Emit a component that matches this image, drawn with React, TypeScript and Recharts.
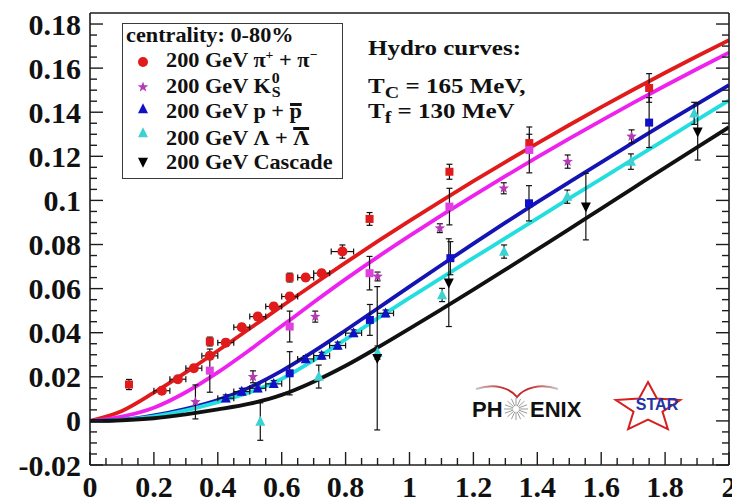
import React from 'react';
import { ComposedChart, Line, Scatter, XAxis, YAxis, ErrorBar, Legend } from 'recharts';

const SERIF = '"Liberation Serif", Tinos, "Times New Roman", Times, "DejaVu Serif", serif';
const SANS = '"Liberation Sans", Arimo, Arial, Helvetica, sans-serif';
const INK = '#1c1c1c';

// ---------- axis ticks ----------
const xMajorTicks = [0, 0.2, 0.4, 0.6, 0.8, 1, 1.2, 1.4, 1.6, 1.8, 2];
const xMajorLabels = ['0', '0.2', '0.4', '0.6', '0.8', '1', '1.2', '1.4', '1.6', '1.8', '2'];
const yMajorTicks = [-0.02, 0, 0.02, 0.04, 0.06, 0.08, 0.1, 0.12, 0.14, 0.16, 0.18];
const yMajorLabels = ['-0.02', '0', '0.02', '0.04', '0.06', '0.08', '0.1', '0.12', '0.14', '0.16', '0.18'];
const X_DOMAIN: [number, number] = [0, 2];
const Y_DOMAIN: [number, number] = [-0.02, 0.185];

// ---------- hydro curves ----------
const curveX = [0, 0.1, 0.2, 0.3, 0.4, 0.5, 0.6, 0.7, 0.8, 0.9, 1.0, 1.1, 1.2, 1.3, 1.4, 1.5, 1.6, 1.7, 1.8, 1.9, 2.0];
const pionCurveY = [0, 0.0045, 0.0128, 0.022, 0.0318, 0.0419, 0.052, 0.062, 0.0718, 0.0814, 0.0907, 0.0998, 0.1087, 0.1174, 0.1259, 0.1342, 0.1423, 0.1502, 0.1579, 0.1654, 0.1727];
const kaonCurveY = [0, 0.002, 0.006, 0.013, 0.022, 0.0322, 0.043, 0.0538, 0.0643, 0.0743, 0.0839, 0.0932, 0.1022, 0.111, 0.1196, 0.128, 0.1362, 0.1442, 0.152, 0.1596, 0.167];
const protonCurveY = [0, 0.0005, 0.0025, 0.0055, 0.0095, 0.0152, 0.0227, 0.0315, 0.0411, 0.051, 0.0609, 0.0707, 0.0804, 0.0899, 0.0992, 0.1083, 0.1173, 0.1262, 0.135, 0.1437, 0.1523];
const lambdaCurveY = [0, 0.0005, 0.0021, 0.0048, 0.0085, 0.013, 0.019, 0.0275, 0.037, 0.0465, 0.0558, 0.0649, 0.0739, 0.0829, 0.0919, 0.1009, 0.1098, 0.1187, 0.1276, 0.1365, 0.1454];
const cascadeCurveY = [0, 0.0003, 0.0012, 0.003, 0.0052, 0.0078, 0.0118, 0.0178, 0.025, 0.0332, 0.0418, 0.0506, 0.0595, 0.0686, 0.0778, 0.087, 0.0963, 0.1056, 0.1149, 0.1241, 0.1332];

// ---------- data points ----------
const piCircleX = [0.225, 0.275, 0.325, 0.375, 0.425, 0.475, 0.525, 0.575, 0.625, 0.675, 0.725, 0.79];
const piCircleY = [0.0137, 0.0189, 0.0239, 0.0295, 0.0355, 0.0425, 0.0473, 0.0519, 0.0564, 0.065, 0.067, 0.0768];
const piCircleEy = [0.0015, 0.0015, 0.0015, 0.0015, 0.0015, 0.0015, 0.0015, 0.0015, 0.0015, 0.0015, 0.0015, 0.003];
const piCircleEx = [0.025, 0.025, 0.025, 0.025, 0.025, 0.025, 0.025, 0.025, 0.025, 0.025, 0.025, 0.035];

const piSquareX = [0.122, 0.375, 0.625, 0.875, 1.125, 1.375, 1.75];
const piSquareY = [0.0165, 0.036, 0.065, 0.0916, 0.113, 0.126, 0.151];
const piSquareEy = [0.0023, 0.002, 0.002, 0.0029, 0.0034, 0.004, 0.0065];

const k0StarX = [0.33, 0.51, 0.705, 0.9, 1.095, 1.295, 1.495, 1.695];
const k0StarY = [0.0086, 0.02, 0.0473, 0.0655, 0.0874, 0.1055, 0.1176, 0.129];
const k0StarEy = [0.0077, 0.0027, 0.0025, 0.002, 0.002, 0.0025, 0.003, 0.003];

const kSquareX = [0.375, 0.625, 0.875, 1.125, 1.375];
const kSquareY = [0.0228, 0.0428, 0.067, 0.0972, 0.1229];
const kSquareEy = [0.0098, 0.007, 0.0076, 0.0083, 0.0104];

const pTriX = [0.425, 0.475, 0.525, 0.575, 0.675, 0.725, 0.775, 0.825, 0.925];
const pTriY = [0.0103, 0.0133, 0.0148, 0.0168, 0.0281, 0.0296, 0.0342, 0.0398, 0.0488];
const pTriEy = [0.0015, 0.0015, 0.0015, 0.0015, 0.0015, 0.0015, 0.0015, 0.0015, 0.0015];
const pTriEx = [0.025, 0.025, 0.025, 0.025, 0.025, 0.025, 0.025, 0.025, 0.025];

const pSquareX = [0.625, 0.876, 1.128, 1.374, 1.75];
const pSquareY = [0.0216, 0.0458, 0.0738, 0.0987, 0.1353];
const pSquareEy = [0.0098, 0.007, 0.0075, 0.008, 0.0113];

const lambdaX = [0.533, 0.716, 0.9, 1.102, 1.296, 1.494, 1.693, 1.891];
const lambdaY = [-0.0003, 0.0201, 0.031, 0.0571, 0.0768, 0.1017, 0.1176, 0.1395];
const lambdaEy = [0.0085, 0.0052, 0.003, 0.003, 0.003, 0.003, 0.0035, 0.005];

const cascadeX = [0.899, 1.123, 1.552, 1.902];
const cascadeY = [0.0284, 0.0627, 0.0972, 0.1312];
const cascadeEy = [0.0325, 0.0199, 0.0151, 0.0129];

// ---------- build tables ----------
const curve = (ys: number[]) => curveX.map((x, i) => ({ x, y: ys[i] }));
const pts = (xs: number[], ys: number[], ey?: number[], ex?: number[]) =>
  xs.map((x, i) => ({ x, y: ys[i], ey: ey ? ey[i] : 0, ex: ex ? ex[i] : 0 }));

const subdivide = (majors: number[], n: number) => {
  const out: number[] = [];
  for (let i = 0; i < majors.length; i++) {
    out.push(majors[i]);
    if (i < majors.length - 1) {
      const step = (majors[i + 1] - majors[i]) / n;
      for (let k = 1; k < n; k++) out.push(+(majors[i] + k * step).toFixed(5));
    }
  }
  return out;
};
const xAllTicks = subdivide(xMajorTicks, 4);
const yAllTicks = subdivide(yMajorTicks, 4);
const majorIndex = (v: number, majors: number[]) => majors.findIndex((m) => Math.abs(m - v) < 1e-6);

const MAJOR = 13;
const MINOR = 7;
const TICK_FONT = 30;

const BottomTick = (p: any) => {
  const i = majorIndex(p.payload.value, xMajorTicks);
  return (
    <g>
      <line x1={p.x} x2={p.x} y1={p.y} y2={p.y - (i >= 0 ? MAJOR : MINOR)} stroke={INK} strokeWidth={1.4} />
      {i >= 0 && (
        <text x={p.x} y={p.y + 31.5} textAnchor="middle" fontFamily={SERIF} fontWeight="bold" fontSize={TICK_FONT} fill="#111">
          {xMajorLabels[i]}
        </text>
      )}
    </g>
  );
};
const TopTick = (p: any) => {
  const i = majorIndex(p.payload.value, xMajorTicks);
  return <line x1={p.x} x2={p.x} y1={p.y} y2={p.y + (i >= 0 ? MAJOR : MINOR)} stroke={INK} strokeWidth={1.4} />;
};
const LeftTick = (p: any) => {
  const i = majorIndex(p.payload.value, yMajorTicks);
  return (
    <g>
      <line x1={p.x} x2={p.x + (i >= 0 ? MAJOR : MINOR)} y1={p.y} y2={p.y} stroke={INK} strokeWidth={1.4} />
      {i >= 0 && (
        <text x={p.x - 9} y={p.y + 10.5} textAnchor="end" fontFamily={SERIF} fontWeight="bold" fontSize={TICK_FONT} fill="#111">
          {yMajorLabels[i]}
        </text>
      )}
    </g>
  );
};
const RightTick = (p: any) => {
  const i = majorIndex(p.payload.value, yMajorTicks);
  return <line x1={p.x} x2={p.x - (i >= 0 ? MAJOR : MINOR)} y1={p.y} y2={p.y} stroke={INK} strokeWidth={1.4} />;
};

// ---------- marker shapes ----------
const circleShape = (fill: string, r: number) => (p: any) => <circle cx={p.cx} cy={p.cy} r={r} fill={fill} />;
const squareShape = (fill: string, s: number) => (p: any) => (
  <rect x={p.cx - s / 2} y={p.cy - s / 2} width={s} height={s} fill={fill} />
);
const starShape = (fill: string, R: number) => (p: any) => {
  const pointsArr: string[] = [];
  for (let i = 0; i < 10; i++) {
    const a = ((-90 + 36 * i) * Math.PI) / 180;
    const r = i % 2 === 0 ? R : R * 0.42;
    pointsArr.push(`${p.cx + r * Math.cos(a)},${p.cy + r * Math.sin(a)}`);
  }
  return <polygon points={pointsArr.join(' ')} fill={fill} />;
};
const triUpShape = (fill: string, s: number) => (p: any) => (
  <polygon
    points={`${p.cx},${p.cy - s * 0.58} ${p.cx - s / 2},${p.cy + s * 0.42} ${p.cx + s / 2},${p.cy + s * 0.42}`}
    fill={fill}
  />
);
const triDownShape = (fill: string, s: number) => (p: any) => (
  <polygon
    points={`${p.cx},${p.cy + s * 0.58} ${p.cx - s / 2},${p.cy - s * 0.42} ${p.cx + s / 2},${p.cy - s * 0.42}`}
    fill={fill}
  />
);

const RED = '#e11b1b';
const MAG_LINE = '#ee22ee';
const MAG_STAR = '#b53ab5';
const MAG_SQ = '#e23fe2';
const BLUE_LINE = '#1414b4';
const BLUE_PT = '#1010c8';
const CYAN_LINE = '#22dede';
const CYAN_PT = '#3cd2d2';

// ---------- legend ----------
const LegendMarker = ({ shape, y }: { shape: (p: any) => any; y: number }) => (
  <svg width={16} height={16} style={{ position: 'absolute', left: 11.5, top: y - 8, overflow: 'visible' }}>
    {shape({ cx: 8, cy: 8 })}
  </svg>
);
const Row = ({ top, children }: { top: number; children: any }) => (
  <div
    style={{
      position: 'absolute',
      left: 43.2,
      top,
      whiteSpace: 'nowrap',
      transform: 'scaleX(1.06)',
      transformOrigin: 'left',
    }}
  >
    {children}
  </div>
);
const Sup = ({ children }: { children: any }) => (
  <span style={{ fontSize: 13, lineHeight: '10px', position: 'relative', top: -8 }}>{children}</span>
);
const BarOver = ({ children, lh }: { children: any; lh: number }) => (
  <span style={{ display: 'inline-block', borderTop: '3px solid #111', lineHeight: `${lh}px` }}>{children}</span>
);

const LegendBox = () => (
  <div
    style={{
      position: 'relative',
      width: 221,
      height: 156,
      boxSizing: 'border-box',
      border: '1.5px solid #3a3a3a',
      background: '#fff',
      fontFamily: SERIF,
      fontWeight: 700,
      fontSize: 21,
      lineHeight: '21px',
      color: '#111',
    }}
  >
    <div style={{ position: 'absolute', left: 3.2, top: 1.2, whiteSpace: 'nowrap', transform: 'scaleX(1.06)', transformOrigin: 'left' }}>
      centrality: 0-80%
    </div>
    <LegendMarker shape={circleShape(RED, 5)} y={37.8} />
    <Row top={26.4}>
      200 GeV π<Sup>+</Sup> + π<Sup>−</Sup>
    </Row>
    <LegendMarker shape={starShape(MAG_STAR, 5.5)} y={62.8} />
    <Row top={51.9}>
      200 GeV K
      <span style={{ position: 'relative', display: 'inline-block', width: 10, height: 0 }}>
        <span style={{ position: 'absolute', left: 1, top: -19.6, fontSize: 15, lineHeight: '11px' }}>0</span>
        <span style={{ position: 'absolute', left: 1, top: -6.3, fontSize: 15, lineHeight: '11px' }}>S</span>
      </span>
    </Row>
    <LegendMarker shape={triUpShape(BLUE_PT, 10)} y={84.8} />
    <Row top={77.4}>
      200 GeV p + <BarOver lh={10}>p</BarOver>
    </Row>
    <LegendMarker shape={triUpShape(CYAN_PT, 10)} y={108.8} />
    <Row top={102.9}>
      200 GeV Λ + <BarOver lh={16}>Λ</BarOver>
    </Row>
    <LegendMarker shape={triDownShape('#000', 10)} y={137.8} />
    <Row top={128.4}>200 GeV Cascade</Row>
  </div>
);

// ---------- annotation overlay ----------
const Sub = ({ children }: { children: any }) => (
  <span style={{ fontSize: 16, lineHeight: '12px', position: 'relative', top: 5 }}>{children}</span>
);
const annotStyle = (top: number): React.CSSProperties => ({
  position: 'absolute',
  left: 368,
  top,
  whiteSpace: 'nowrap',
  fontFamily: SERIF,
  fontWeight: 700,
  fontSize: 20,
  lineHeight: '20px',
  color: '#111',
  transform: 'scaleX(1.25)',
  transformOrigin: 'left',
});

const starPoints = (cx: number, cy: number, R: number, sx: number) => {
  const arr: string[] = [];
  for (let i = 0; i < 10; i++) {
    const a = ((-90 + 36 * i) * Math.PI) / 180;
    const r = i % 2 === 0 ? R : R * 0.45;
    arr.push(`${cx + sx * r * Math.cos(a)},${cy + r * Math.sin(a)}`);
  }
  return arr.join(' ');
};
const burst = (cx: number, cy: number) => {
  const rays: any[] = [];
  for (let i = 0; i < 16; i++) {
    const a = (i * Math.PI) / 8;
    rays.push(
      <line
        key={i}
        x1={cx + 3 * Math.cos(a)}
        y1={cy + 3 * Math.sin(a)}
        x2={cx + 12 * Math.cos(a)}
        y2={cy + 11 * Math.sin(a)}
        stroke="#9a9a9a"
        strokeWidth={1}
      />
    );
  }
  return rays;
};

const Logos = () => (
  <svg width={732} height={499} style={{ position: 'absolute', left: 0, top: 0, pointerEvents: 'none' }}>
    <defs>
      <linearGradient id="swoosh" x1="0" x2="1" y1="0" y2="0">
        <stop offset="0" stopColor="#c8c8c8" />
        <stop offset="0.35" stopColor="#c42a2a" />
        <stop offset="0.65" stopColor="#c42a2a" />
        <stop offset="1" stopColor="#c8c8c8" />
      </linearGradient>
    </defs>
    <path d="M 476 389 C 495 383, 510 388, 517 397 C 524 388, 540 383, 558 389" stroke="url(#swoosh)" strokeWidth={2} fill="none" />
    <text x={472} y={417} fontFamily={SANS} fontWeight="bold" fontSize={22} fill="#111">PH</text>
    {burst(516, 409)}
    <text x={530} y={417} fontFamily={SANS} fontWeight="bold" fontSize={22} fill="#111">ENIX</text>
    <polygon points={starPoints(648, 408, 26, 1.3)} fill="#fff" stroke="#d42020" strokeWidth={2} strokeLinejoin="miter" />
    <text x={657} y={410} textAnchor="middle" fontFamily={SANS} fontWeight="bold" fontSize={16} fill="#2433a8">STAR</text>
  </svg>
);

const frameLine = { stroke: INK, strokeWidth: 1.6 };

export default function App() {
  return (
    <div style={{ position: 'absolute', left: 0, top: 0, width: 732, height: 499, background: '#fff', overflow: 'hidden' }}>
      <ComposedChart width={732} height={499} margin={{ top: 12, right: 2, bottom: 0, left: 0 }}>
        <XAxis
          dataKey="x"
          type="number"
          domain={X_DOMAIN}
          allowDataOverflow
          ticks={xAllTicks}
          interval={0}
          tickSize={0}
          tickMargin={0}
          tickLine={false}
          height={34}
          axisLine={frameLine}
          tick={BottomTick}
        />
        <XAxis
          xAxisId="top"
          orientation="top"
          type="number"
          domain={X_DOMAIN}
          allowDataOverflow
          ticks={xAllTicks}
          interval={0}
          tickSize={0}
          tickMargin={0}
          tickLine={false}
          height={1}
          axisLine={frameLine}
          tick={TopTick}
        />
        <YAxis
          dataKey="y"
          type="number"
          domain={Y_DOMAIN}
          allowDataOverflow
          ticks={yAllTicks}
          interval={0}
          tickSize={0}
          tickMargin={0}
          tickLine={false}
          width={90}
          axisLine={frameLine}
          tick={LeftTick}
        />
        <YAxis
          yAxisId="right"
          orientation="right"
          type="number"
          domain={Y_DOMAIN}
          allowDataOverflow
          ticks={yAllTicks}
          interval={0}
          tickSize={0}
          tickMargin={0}
          tickLine={false}
          width={1}
          axisLine={frameLine}
          tick={RightTick}
        />
        <Legend
          layout="vertical"
          align="center"
          verticalAlign="middle"
          wrapperStyle={{ left: 122, top: 23, width: 221, height: 156 }}
          content={() => <LegendBox />}
        />

        <Line data={curve(pionCurveY)} dataKey="y" type="monotone" stroke={RED} strokeWidth={3.8} dot={false} activeDot={false} isAnimationActive={false} />
        <Line data={curve(kaonCurveY)} dataKey="y" type="monotone" stroke={MAG_LINE} strokeWidth={3.8} dot={false} activeDot={false} isAnimationActive={false} />
        <Line data={curve(protonCurveY)} dataKey="y" type="monotone" stroke={BLUE_LINE} strokeWidth={3.8} dot={false} activeDot={false} isAnimationActive={false} />
        <Line data={curve(lambdaCurveY)} dataKey="y" type="monotone" stroke={CYAN_LINE} strokeWidth={3.8} dot={false} activeDot={false} isAnimationActive={false} />
        <Line data={curve(cascadeCurveY)} dataKey="y" type="monotone" stroke="#111" strokeWidth={3.8} dot={false} activeDot={false} isAnimationActive={false} />

        <Scatter data={pts(piSquareX, piSquareY, piSquareEy)} shape={squareShape(RED, 8)} isAnimationActive={false}>
          <ErrorBar dataKey="ey" direction="y" width={3} stroke="#111" strokeWidth={1.2} />
        </Scatter>
        <Scatter data={pts(piCircleX, piCircleY, piCircleEy, piCircleEx)} shape={circleShape(RED, 5)} isAnimationActive={false}>
          <ErrorBar dataKey="ey" direction="y" width={3} stroke="#111" strokeWidth={1.2} />
          <ErrorBar dataKey="ex" direction="x" width={3} stroke="#111" strokeWidth={1.2} />
        </Scatter>
        <Scatter data={pts(kSquareX, kSquareY, kSquareEy)} shape={squareShape(MAG_SQ, 8)} isAnimationActive={false}>
          <ErrorBar dataKey="ey" direction="y" width={3} stroke="#111" strokeWidth={1.2} />
        </Scatter>
        <Scatter data={pts(k0StarX, k0StarY, k0StarEy)} shape={starShape(MAG_STAR, 5.5)} isAnimationActive={false}>
          <ErrorBar dataKey="ey" direction="y" width={3} stroke="#111" strokeWidth={1.2} />
        </Scatter>
        <Scatter data={pts(pSquareX, pSquareY, pSquareEy)} shape={squareShape(BLUE_PT, 8)} isAnimationActive={false}>
          <ErrorBar dataKey="ey" direction="y" width={3} stroke="#111" strokeWidth={1.2} />
        </Scatter>
        <Scatter data={pts(pTriX, pTriY, pTriEy, pTriEx)} shape={triUpShape(BLUE_PT, 10)} isAnimationActive={false}>
          <ErrorBar dataKey="ey" direction="y" width={3} stroke="#111" strokeWidth={1.2} />
          <ErrorBar dataKey="ex" direction="x" width={3} stroke="#111" strokeWidth={1.2} />
        </Scatter>
        <Scatter data={pts(lambdaX, lambdaY, lambdaEy)} shape={triUpShape(CYAN_PT, 10)} isAnimationActive={false}>
          <ErrorBar dataKey="ey" direction="y" width={3} stroke="#111" strokeWidth={1.2} />
        </Scatter>
        <Scatter data={pts(cascadeX, cascadeY, cascadeEy)} shape={triDownShape('#000', 10)} isAnimationActive={false}>
          <ErrorBar dataKey="ey" direction="y" width={3} stroke="#111" strokeWidth={1.2} />
        </Scatter>
      </ComposedChart>

      <div style={annotStyle(38.25)}>Hydro curves:</div>
      <div style={annotStyle(76.25)}>
        T<Sub>C</Sub> = 165 MeV,
      </div>
      <div style={annotStyle(101.25)}>
        T<Sub>f</Sub> = 130 MeV
      </div>
      <Logos />
    </div>
  );
}
